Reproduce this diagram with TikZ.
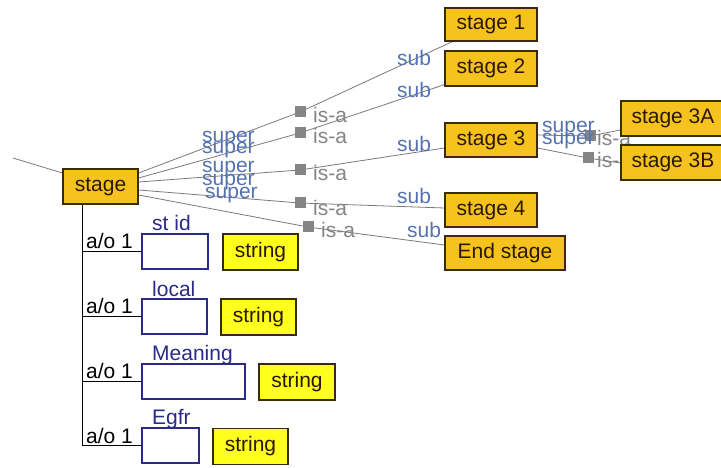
\documentclass[tikz,border=0pt]{standalone}
\usepackage{fontspec}
\setmainfont{Liberation Sans}
\usetikzlibrary{calc}
\pgfdeclarelayer{bg}
\pgfdeclarelayer{fg}
\pgfsetlayers{bg,main,fg}
\definecolor{stagefill}{HTML}{F6C21D}
\definecolor{stageline}{HTML}{3A2A10}
\definecolor{stagetext}{HTML}{2A1800}
\definecolor{strfill}{HTML}{FFFF1E}
\definecolor{relblue}{HTML}{5573B0}
\definecolor{isagray}{HTML}{858585}
\definecolor{attrblue}{HTML}{2A2A88}
\definecolor{linegray}{HTML}{7A7A7A}
\begin{document}
\begin{tikzpicture}[x=1pt,y=-1pt,
  every node/.style={font=\fontsize{21}{24}\selectfont, inner sep=0pt},
  concept/.style={draw=stageline, line width=1.2pt, fill=stagefill, text=stagetext, minimum height=34pt},
  attrbox/.style={draw=attrblue, line width=1.2pt, fill=white, minimum height=35pt},
  strbox/.style={draw=stageline, line width=1.2pt, fill=strfill, text=stagetext, minimum width=75pt, minimum height=36pt},
  isasq/.style={fill=isagray, minimum size=11pt},
  rel/.style={text=relblue, anchor=base west},
  isa/.style={text=isagray, anchor=base west},
  attrlbl/.style={text=attrblue, anchor=base west},
  aolbl/.style={text=black, anchor=base west},
  link/.style={draw=linegray, line width=0.8pt},
  tree/.style={draw=black, line width=1.3pt}]
\useasboundingbox (0,0) rectangle (721,468);
\begin{pgfonlayer}{bg}
\fill[white] (0,0) rectangle (721,468);
\end{pgfonlayer}
% concept nodes (front layer)
\begin{pgfonlayer}{fg}
\node[concept, minimum width=75pt, minimum height=35pt] (stage) at (100.5,186.5) {stage};
\node[concept, minimum width=92pt, minimum height=33pt] (s1) at (491,24.5) {stage 1};
\node[concept, minimum width=92pt, minimum height=35pt] (s2) at (491,68.5) {stage 2};
\node[concept, minimum width=92pt] (s3) at (491,140) {stage 3};
\node[concept, minimum width=104pt, minimum height=35pt] (s3a) at (673,118.5) {stage 3A\hspace{8pt}};
\node[concept, minimum width=104pt, minimum height=35pt] (s3b) at (673,162.5) {stage 3B\hspace{8pt}};
\node[concept, minimum width=92pt] (s4) at (491,210) {stage 4};
\node[concept, minimum width=120pt] (send) at (505,253) {End stage};
% attribute boxes
\node[attrbox, minimum width=66pt] (a1) at (175,251.5) {};
\node[attrbox, minimum width=65pt] (a2) at (174.5,316.5) {};
\node[attrbox, minimum width=103pt] (a3) at (193.5,381.5) {};
\node[attrbox, minimum width=57pt] (a4) at (170.5,445.5) {};
% string boxes
\node[strbox] (t1) at (260.5,252) {string};
\node[strbox] (t2) at (258.5,317) {string};
\node[strbox, minimum width=76pt] (t3) at (297,382) {string};
\node[strbox] (t4) at (250.5,446.5) {string};
\end{pgfonlayer}
% is-a squares
\node[isasq] (q1) at (300,112) {};
\node[isasq] (q2) at (300,133) {};
\node[isasq] (q3) at (300,170) {};
\node[isasq] (q4) at (300,203) {};
\node[isasq] (q5) at (308,227) {};
\node[isasq] (q6) at (590,136) {};
\node[isasq] (q7) at (588,158) {};
% connectors (behind)
\begin{pgfonlayer}{bg}
\coordinate (inc) at (13,158);
\draw[link] (inc) -- ($(stage.west)+(0,-13.5)$);
\draw[link] ($(stage.east)+(0,-13.5)$) -- (q1.center) -- ($(s1.south west)+(8,0)$);
\draw[link] ($(stage.east)+(0,-8.5)$) -- (q2.center) -- ($(s2.south west)+(0,-2)$);
\draw[link] ($(stage.east)+(0,-4.5)$) -- (q3.center) -- ($(s3.west)+(0,8)$);
\draw[link] ($(stage.east)+(0,3.5)$) -- (q4.center) -- ($(s4.west)+(0,-2)$);
\draw[link] ($(stage.east)+(0,8.5)$) -- (q5.center) -- ($(send.west)+(0,-8)$);
\draw[link] ($(s3.east)+(0,-5)$) -- (q6.center) -- ($(s3a.west)+(0,11.5)$);
\draw[link] ($(s3.east)+(0,8)$) -- (q7.center) -- ($(s3b.west)+(0,0.5)$);
% tree of attributes
\coordinate (tr) at ($(stage.south west)+(20,0)$);
\draw[tree] (tr) -- (tr |- a4.west);
\draw[tree] (tr |- a1.west) -- (a1.west);
\draw[tree] (tr |- a2.west) -- (a2.west);
\draw[tree] (tr |- a3.west) -- (a3.west);
\draw[tree] (tr |- a4.west) -- (a4.west);
\end{pgfonlayer}
% relation labels
\node[rel] (sp1) at (202,143) {super};
\node[rel] (sp2) at (202,154) {super};
\node[rel] (sp3) at (202,173) {super};
\node[rel] (sp4) at (202,186) {super};
\node[rel] (sp5) at (205,199) {super};
\node[rel] (sb1) at (397,66) {sub};
\node[rel] (sb2) at (397,98) {sub};
\node[rel] (sb3) at (397,152) {sub};
\node[rel] (sb4) at (397,204) {sub};
\node[rel] (sb5) at (407,238) {sub};
\node[rel] (sp6) at (542,133) {super};
\node[rel] (sp7) at (542,145) {super};
\node[isa] (i1) at (313,123) {is-a};
\node[isa] (i2) at (313,144) {is-a};
\node[isa] (i3) at (313,181) {is-a};
\node[isa] (i4) at (313,215) {is-a};
\node[isa] (i5) at (321,238) {is-a};
\node[isa] (i6) at (597,146) {is-a};
\node[isa] (i7) at (597,168) {is-a};
% attribute labels
\node[attrlbl] (l1) at (152,231) {st id};
\node[attrlbl] (l2) at (152,296) {local};
\node[attrlbl] (l3) at (152,360) {Meaning};
\node[attrlbl] (l4) at (152,424) {Egfr};
\node[aolbl] (o1) at (86,248) {a/o 1};
\node[aolbl] (o2) at (86,313) {a/o 1};
\node[aolbl] (o3) at (86,378) {a/o 1};
\node[aolbl] (o4) at (86,443) {a/o 1};
\end{tikzpicture}
\end{document}
